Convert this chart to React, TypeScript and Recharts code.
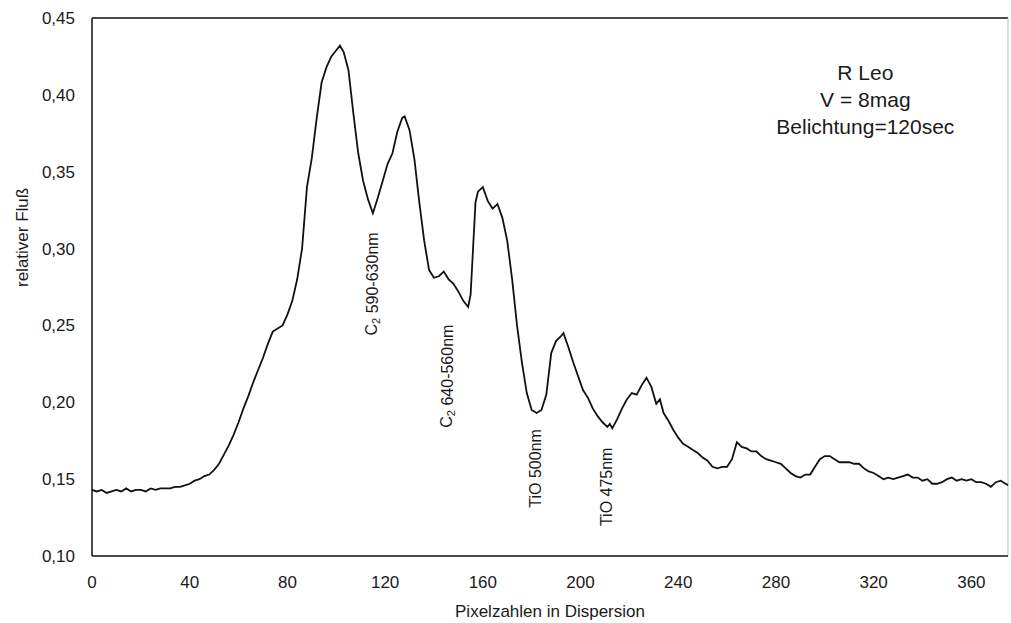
import React from 'react';
import { LineChart, Line, XAxis, YAxis, ReferenceLine, ReferenceDot } from 'recharts';

// Pixelposition in der Dispersion und relativer Fluss
const pixel = [
  0, 2, 4, 6, 8, 10, 12, 14, 16, 18, 20, 22, 24, 26, 28, 30, 32, 34, 36, 38,
  40, 42, 44, 46, 48, 50, 52, 54, 56, 58, 60, 62, 64, 66, 68, 70, 72, 74, 76, 78,
  80, 82, 84, 86, 88, 90, 92, 94, 96, 98, 100, 101.5, 103, 105, 107, 109, 111, 113, 115, 117,
  119, 121, 123, 125, 127, 128, 130, 132, 134, 136, 138, 140, 142, 144, 146, 148, 150, 152, 154, 155,
  156, 157, 158, 160, 162, 164, 166, 168, 170, 172, 174, 176, 178, 180, 182, 184, 186, 188, 190, 192,
  193, 195, 197, 199, 201, 203, 205, 207, 209, 211, 212, 213, 215, 217, 219, 221, 223, 225, 227, 229,
  231, 232.5, 234, 236, 238, 240, 242, 244, 246, 248, 250, 252, 254, 256, 258, 260, 262, 264, 266, 268,
  270, 272, 274, 276, 278, 280, 282, 284, 286, 288, 290, 292, 294, 296, 298, 300, 302, 304, 306, 308,
  310, 312, 314, 316, 318, 320, 322, 324, 326, 328, 330, 332, 334, 336, 338, 340, 342, 344, 346, 348,
  350, 352, 354, 356, 358, 360, 362, 364, 366, 368, 370, 372, 374, 375,
];

const flux = [
  0.143, 0.142, 0.143, 0.141, 0.142, 0.143, 0.142, 0.144, 0.142, 0.143, 0.143, 0.142, 0.144, 0.143, 0.144, 0.144, 0.144, 0.145, 0.145, 0.146,
  0.147, 0.149, 0.150, 0.152, 0.153, 0.156, 0.160, 0.166, 0.172, 0.179, 0.187, 0.196, 0.204, 0.213, 0.221, 0.229, 0.238, 0.246, 0.248, 0.250,
  0.257, 0.266, 0.280, 0.300, 0.340, 0.359, 0.385, 0.408, 0.418, 0.425, 0.429, 0.432, 0.428, 0.416, 0.388, 0.362, 0.344, 0.332, 0.323, 0.333,
  0.344, 0.355, 0.362, 0.376, 0.385, 0.386, 0.377, 0.358, 0.330, 0.305, 0.286, 0.281, 0.282, 0.285, 0.280, 0.277, 0.272, 0.266, 0.262, 0.270,
  0.300, 0.330, 0.337, 0.340, 0.331, 0.326, 0.329, 0.320, 0.305, 0.280, 0.250, 0.226, 0.206, 0.195, 0.193, 0.195, 0.205, 0.232, 0.240, 0.243,
  0.245, 0.236, 0.226, 0.217, 0.208, 0.203, 0.196, 0.191, 0.187, 0.184, 0.186, 0.183, 0.189, 0.196, 0.202, 0.206, 0.205, 0.211, 0.216, 0.210,
  0.199, 0.202, 0.193, 0.188, 0.182, 0.177, 0.173, 0.171, 0.169, 0.167, 0.164, 0.162, 0.158, 0.157, 0.158, 0.158, 0.163, 0.174, 0.171, 0.170,
  0.168, 0.168, 0.165, 0.163, 0.162, 0.161, 0.160, 0.157, 0.154, 0.152, 0.151, 0.153, 0.153, 0.158, 0.163, 0.165, 0.165, 0.163, 0.161, 0.161,
  0.161, 0.160, 0.160, 0.157, 0.155, 0.154, 0.152, 0.150, 0.151, 0.150, 0.151, 0.152, 0.153, 0.151, 0.151, 0.149, 0.150, 0.147, 0.147, 0.148,
  0.150, 0.151, 0.149, 0.150, 0.149, 0.150, 0.148, 0.148, 0.147, 0.145, 0.148, 0.149, 0.147, 0.146,
];

const xTicks = [0, 40, 80, 120, 160, 200, 240, 280, 320, 360];
const yTicks = [0.1, 0.15, 0.2, 0.25, 0.3, 0.35, 0.4, 0.45];

// Beschriftungen der Absorptionsbanden: [Position, Fluss, Molekül, Bereich]
const bands: [number, number, string, string][] = [
  [114.5, 0.277, 'C2', ' 590-630nm'],
  [145.3, 0.217, 'C2', ' 640-560nm'],
  [181.4, 0.157, 'TiO', ' 500nm'],
  [210.5, 0.145, 'TiO', ' 475nm'],
];

const infoLines = ['R Leo', 'V = 8mag', 'Belichtung=120sec'];

const data = pixel.map((x, i) => ({ x, flux: flux[i] }));

const FONT = '"Liberation Sans", Arial, sans-serif';
const INK = '#1a1a1a';

const BandLabel = (props: any) => {
  const { viewBox, mol, range } = props;
  const cx = viewBox.x;
  const cy = viewBox.y;
  return (
    <text
      x={cx}
      y={cy}
      transform={`rotate(-90 ${cx} ${cy})`}
      textAnchor="middle"
      dominantBaseline="central"
      fontFamily={FONT}
      fontSize={16}
      fill={INK}
    >
      {mol === 'C2' ? (
        <>
          C<tspan fontSize={11} dy={4}>2</tspan>
          <tspan dy={-4}>{range}</tspan>
        </>
      ) : (
        mol + range
      )}
    </text>
  );
};

const InfoLabel = (props: any) => {
  const { viewBox } = props;
  return (
    <text textAnchor="middle" fontFamily={FONT} fontSize={21} fill={INK}>
      {infoLines.map((l, i) => (
        <tspan key={i} x={viewBox.x} y={viewBox.y + 7 + i * 27}>
          {l}
        </tspan>
      ))}
    </text>
  );
};

export default function App() {
  return (
    <div style={{ position: 'absolute', left: 0, top: 0, background: '#fff' }}>
      <LineChart width={1011} height={623} data={data} margin={{ top: 18, right: 3, bottom: 6, left: 32 }}>
        <XAxis
          dataKey="x"
          type="number"
          domain={[0, 375]}
          ticks={xTicks}
          tickLine={false}
          tickMargin={14}
          height={61}
          axisLine={{ stroke: '#111', strokeWidth: 1.5 }}
          tick={{ fill: INK, fontSize: 17, fontFamily: FONT }}
          label={{ value: 'Pixelzahlen in Dispersion', position: 'insideBottom', offset: 0, fill: INK, fontSize: 17, fontFamily: FONT }}
        />
        <YAxis
          type="number"
          domain={[0.1, 0.45]}
          ticks={yTicks}
          width={60}
          tickLine={false}
          tickMargin={11}
          axisLine={{ stroke: '#111', strokeWidth: 1.5 }}
          tick={{ fill: INK, fontSize: 17, fontFamily: FONT }}
          tickFormatter={(v: number) => v.toFixed(2).replace('.', ',')}
          label={{ value: 'relativer Fluß', angle: -90, position: 'insideLeft', offset: -10, fill: INK, fontSize: 17, fontFamily: FONT }}
        />
        <ReferenceLine y={0.45} stroke="#111" strokeWidth={1.5} />
        <ReferenceLine x={375} stroke="#bbb" strokeWidth={1} />
        <Line
          type="linear"
          dataKey="flux"
          stroke="#111"
          strokeWidth={1.8}
          dot={false}
          isAnimationActive={false}
        />
        {bands.map(([bx, by, mol, range], i) => (
          <ReferenceDot
            key={i}
            x={bx}
            y={by}
            r={0}
            fill="none"
            stroke="none"
            label={<BandLabel mol={mol} range={range} />}
          />
        ))}
        <ReferenceDot x={316.6} y={0.414} r={0} fill="none" stroke="none" label={<InfoLabel />} />
      </LineChart>
    </div>
  );
}
